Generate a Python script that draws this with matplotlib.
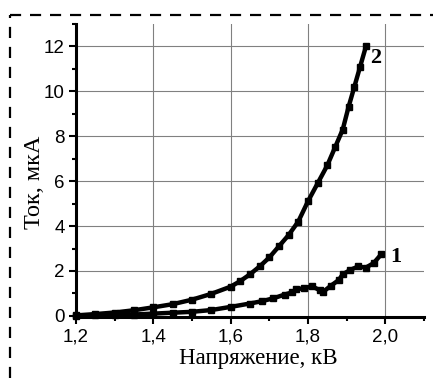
import matplotlib
matplotlib.use("Agg")
import matplotlib.pyplot as plt
from matplotlib.ticker import MultipleLocator, FuncFormatter
from matplotlib.lines import Line2D

# Data
x_curve2 = [1.20, 1.25, 1.30, 1.35, 1.40, 1.45, 1.50, 1.55, 1.60, 1.625, 1.65, 1.675,
            1.70, 1.725, 1.75, 1.775, 1.80, 1.825, 1.85, 1.87, 1.89, 1.905, 1.92, 1.935, 1.95]
y_curve2 = [0.02, 0.08, 0.15, 0.25, 0.38, 0.52, 0.72, 0.98, 1.30, 1.55, 1.85, 2.20,
            2.60, 3.10, 3.60, 4.20, 5.10, 5.90, 6.70, 7.50, 8.30, 9.30, 10.2, 11.1, 12.0]

x_curve1 = [1.20, 1.25, 1.30, 1.35, 1.40, 1.45, 1.50, 1.55, 1.60, 1.65, 1.68, 1.71, 1.74,
            1.76, 1.77, 1.79, 1.81, 1.83, 1.84, 1.86, 1.88, 1.89, 1.91, 1.93, 1.95, 1.97, 1.99]
y_curve1 = [0.00, 0.02, 0.04, 0.06, 0.10, 0.14, 0.18, 0.26, 0.40, 0.55, 0.65, 0.78, 0.95,
            1.05, 1.20, 1.22, 1.32, 1.15, 1.08, 1.35, 1.60, 1.85, 2.05, 2.20, 2.15, 2.35, 2.75]

curve_labels = ["1", "2"]
label_pos = [(2.014, 2.6), (1.962, 11.5)]

xticks = [1.2, 1.4, 1.6, 1.8, 2.0]
yticks = [0, 2, 4, 6, 8, 10, 12]
xlabel = "Напряжение, кВ"
ylabel = "Ток, мкА"

fig = plt.figure(figsize=(4.33, 3.78), dpi=100)
ax = fig.add_axes([0.1755, 0.1614, 0.979 - 0.1755, 0.9365 - 0.1614])

# grid
for xv in xticks[1:]:
    ax.axvline(xv, color="#808080", lw=0.8, zorder=0)
for yv in yticks[1:]:
    ax.axhline(yv, color="#808080", lw=0.8, zorder=0)

for xs, ys in [(x_curve1, y_curve1), (x_curve2, y_curve2)]:
    ax.plot(xs, ys, color="black", lw=3.2, marker="s", ms=3.8, solid_capstyle="butt",
            zorder=3, clip_on=False)

for lab, (lx, ly) in zip(curve_labels, label_pos):
    ax.text(lx, ly, lab, fontsize=16, fontweight="bold", family="Liberation Serif",
            ha="left", va="center", zorder=4)

ax.set_xlim(1.2, 2.1)
ax.set_ylim(-0.05, 13.0)
ax.set_xticks(xticks)
ax.set_yticks(yticks)
ax.xaxis.set_minor_locator(MultipleLocator(0.1))
ax.yaxis.set_minor_locator(MultipleLocator(1))
fmt = FuncFormatter(lambda v, p: f"{v:.1f}".replace(".", ","))
ax.xaxis.set_major_formatter(fmt)

for s in ["top", "right"]:
    ax.spines[s].set_visible(False)
for s in ["left", "bottom"]:
    ax.spines[s].set_linewidth(2.2)
ax.tick_params(which="major", direction="out", length=5, width=1.5, labelsize=13.5,
               colors="black", pad=3)
ax.tick_params(which="minor", direction="out", length=3, width=1.5)
for t in ax.get_xticklabels() + ax.get_yticklabels():
    t.set_family("Liberation Sans")

ax.set_xlabel(xlabel, family="Liberation Serif", fontsize=16.5)
ax.set_ylabel(ylabel, family="Liberation Serif", fontsize=17.5)
ax.xaxis.set_label_coords(0.524, -0.105)
ax.yaxis.set_label_coords(-0.09, 0.46)

# dashed frame
W, H = 433, 378
fig.add_artist(Line2D([10 / W, 10 / W], [0, 1 - 15 / H], transform=fig.transFigure,
                      color="black", lw=1.6, ls=(0, (5, 4))))
fig.add_artist(Line2D([10 / W, 1], [1 - 15 / H, 1 - 15 / H], transform=fig.transFigure,
                      color="black", lw=1.6, ls=(0, (5, 4))))

fig.savefig("out.png", dpi=100)
